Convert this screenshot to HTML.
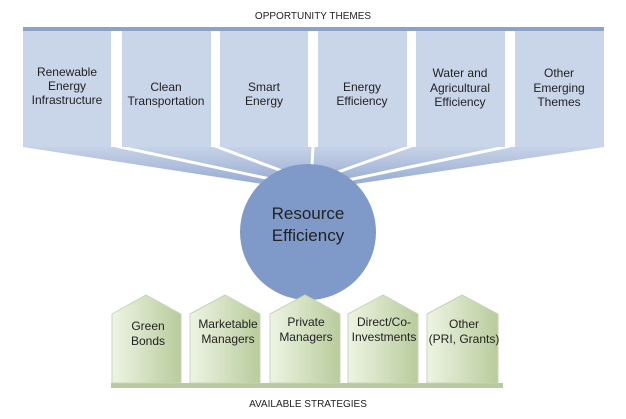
<!DOCTYPE html>
<html><head><style>body{margin:0;background:#fff}svg{display:block}text{font-family:"Liberation Sans",Arial,sans-serif;fill:#222}</style></head>
<body>
<svg width="626" height="419" viewBox="0 0 626 419" xmlns="http://www.w3.org/2000/svg">
<defs>
<linearGradient id="f" x1="0" y1="0" x2="0" y2="1"><stop offset="0" stop-color="#c6d2e7"/><stop offset="1" stop-color="#98acd2"/></linearGradient>
<linearGradient id="g" x1="0" y1="0" x2="1" y2="0"><stop offset="0" stop-color="#eef4e4"/><stop offset="1" stop-color="#b8cc9c"/></linearGradient>
</defs>
<text x="313" y="19" font-size="10" text-anchor="middle">OPPORTUNITY THEMES</text>
<rect x="23" y="27" width="581" height="4" fill="#8aa2cc"/>
<polygon points="23,147 604,147 355,184 262,184" fill="url(#f)"/>
<g stroke="#fff" stroke-width="3" fill="none">
<line x1="116" y1="146" x2="275" y2="180"/>
<line x1="215" y1="146" x2="285" y2="172"/>
<line x1="313" y1="146" x2="312" y2="166"/>
<line x1="411" y1="146" x2="338" y2="172"/>
<line x1="510" y1="146" x2="348" y2="180"/>
</g>
<g fill="#c9d5e9">
<rect x="23" y="31" width="88" height="116"/>
<rect x="122" y="31" width="89" height="116"/>
<rect x="220" y="31" width="88" height="116"/>
<rect x="318" y="31" width="89" height="116"/>
<rect x="416" y="31" width="89" height="116"/>
<rect x="515" y="31" width="89" height="116"/>
</g>
<g font-size="12" text-anchor="middle">
<text x="67" y="76">Renewable</text><text x="67" y="90">Energy</text><text x="67" y="104">Infrastructure</text>
<text x="166" y="91">Clean</text><text x="166" y="105">Transportation</text>
<text x="264" y="91">Smart</text><text x="264" y="105">Energy</text>
<text x="362" y="91">Energy</text><text x="362" y="105">Efficiency</text>
<text x="460" y="77">Water and</text><text x="460" y="92">Agricultural</text><text x="460" y="106">Efficiency</text>
<text x="559" y="77">Other</text><text x="559" y="92">Emerging</text><text x="559" y="106">Themes</text>
</g>
<circle cx="308" cy="232" r="68" fill="#7f9ac8"/>
<text x="308" y="219" font-size="17" text-anchor="middle">Resource</text>
<text x="308" y="241" font-size="17" text-anchor="middle">Efficiency</text>
<rect x="111" y="383" width="392" height="5" fill="#b9c9a2"/>
<g fill="url(#g)" stroke="#c8d4b8" stroke-width="1">
<polygon points="112,314 146,295 181,314 181,383 112,383"/>
<polygon points="190,314 225,295 260,314 260,383 190,383"/>
<polygon points="270,314 305,295 340,314 340,383 270,383"/>
<polygon points="348,314 383,295 418,314 418,383 348,383"/>
<polygon points="427,314 462,295 498,314 498,383 427,383"/>
</g>
<g font-size="12" text-anchor="middle">
<text x="148" y="330">Green</text><text x="148" y="345">Bonds</text>
<text x="228" y="328">Marketable</text><text x="228" y="343">Managers</text>
<text x="306" y="326">Private</text><text x="306" y="341">Managers</text>
<text x="384" y="326">Direct/Co-</text><text x="384" y="341">Investments</text>
<text x="464" y="328">Other</text><text x="464" y="343">(PRI, Grants)</text>
</g>
<text x="308" y="407" font-size="10" text-anchor="middle">AVAILABLE STRATEGIES</text>
</svg>
</body></html>
